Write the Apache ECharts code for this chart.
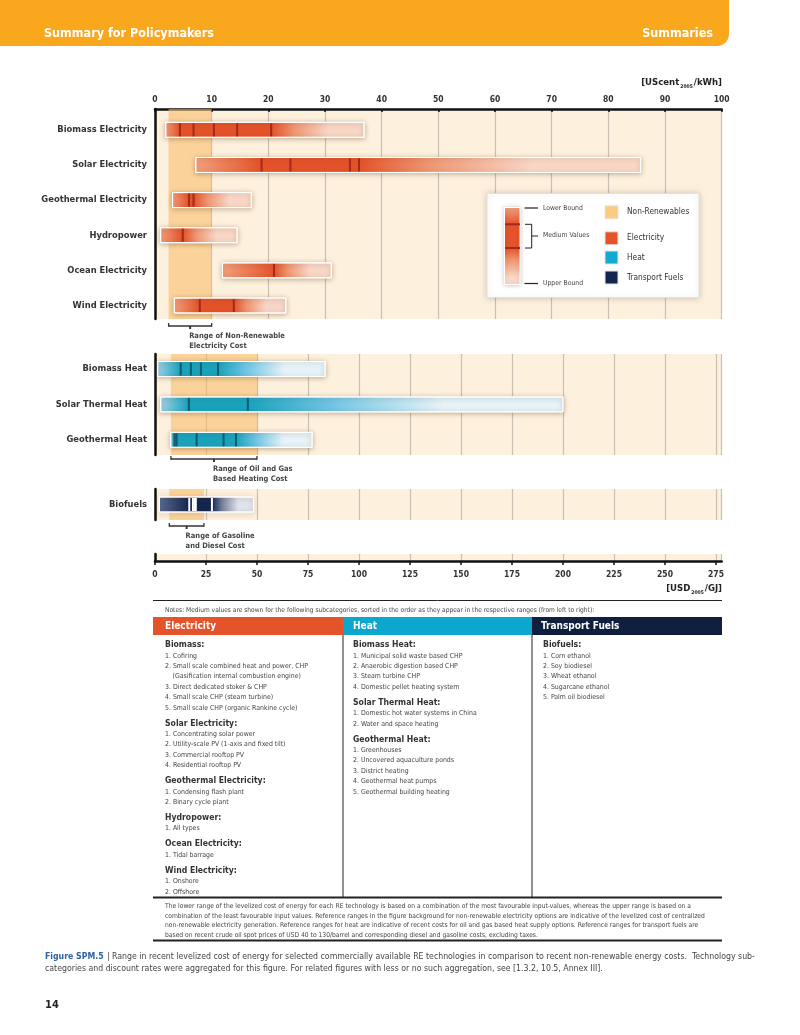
<!DOCTYPE html>
<html><head><meta charset="utf-8">
<script src="https://cdn.jsdelivr.net/npm/echarts@6/dist/echarts.min.js"></script>
<style>html,body{margin:0;padding:0;background:#fff}#c{width:800px;height:1035px}</style>
</head><body><div id="c"></div>
<script>
// ---------------- DATA ----------------
const elecCats = ['Biomass Electricity','Solar Electricity','Geothermal Electricity','Hydropower','Ocean Electricity','Wind Electricity'];
const elecLow  = [1.9, 7.2, 3.1, 1.0, 11.9, 3.4];     // UScent2005/kWh
const elecHigh = [36.9, 85.7, 17.0, 14.5, 31.1, 23.1];
const elecMed  = [[4.4,6.8,10.4,14.5,20.5],[18.8,23.9,34.4,36.0],[6.0,6.8],[4.9],[21.0],[7.9,13.9]];
const elecBand = [2.4, 10];

const heatCats = ['Biomass Heat','Solar Thermal Heat','Geothermal Heat'];
const heatLow  = [1.3, 2.8, 7.7];                     // USD2005/GJ
const heatHigh = [83.4, 200.0, 77.0];
const heatMed  = [[12.6,17.6,22.5,30.9],[16.6,45.5],[9.6,10.6,20.4,33.6,39.7]];
const heatBand = [7.8, 50];

const fuelCats = ['Biofuels'];
const fuelLow  = [2.1];
const fuelHigh = [48.3];
const fuelMed  = [[16.8,18.6,19.6,20.0,27.9]];
const fuelBand = [7, 24];

const topTicksInterval = 10;      // UScent/kWh
const bottomTicksInterval = 25;   // USD/GJ
const USD_GJ_PER_USC_KWH = 2.7778;
const topMax = 100;
const bottomMax = topMax * USD_GJ_PER_USC_KWH;

const notesElec = [['h','Biomass:'],['i','1. Cofiring'],['i','2. Small scale combined heat and power, CHP'],['c','(Gasification internal combustion engine)'],['i','3. Direct dedicated stoker & CHP'],['i','4. Small scale CHP (steam turbine)'],['i','5. Small scale CHP (organic Rankine cycle)'],
 ['h','Solar Electricity:'],['i','1. Concentrating solar power'],['i','2. Utility-scale PV (1-axis and fixed tilt)'],['i','3. Commercial rooftop PV'],['i','4. Residential rooftop PV'],
 ['h','Geothermal Electricity:'],['i','1. Condensing flash plant'],['i','2. Binary cycle plant'],
 ['h','Hydropower:'],['i','1. All types'],
 ['h','Ocean Electricity:'],['i','1. Tidal barrage'],
 ['h','Wind Electricity:'],['i','1. Onshore'],['i','2. Offshore']];
const notesHeat = [['h','Biomass Heat:'],['i','1. Municipal solid waste based CHP'],['i','2. Anaerobic digestion based CHP'],['i','3. Steam turbine CHP'],['i','4. Domestic pellet heating system'],
 ['h','Solar Thermal Heat:'],['i','1. Domestic hot water systems in China'],['i','2. Water and space heating'],
 ['h','Geothermal Heat:'],['i','1. Greenhouses'],['i','2. Uncovered aquaculture ponds'],['i','3. District heating'],['i','4. Geothermal heat pumps'],['i','5. Geothermal building heating']];
const notesFuel = [['h','Biofuels:'],['i','1. Corn ethanol'],['i','2. Soy biodiesel'],['i','3. Wheat ethanol'],['i','4. Sugarcane ethanol'],['i','5. Palm oil biodiesel']];
const paragraph = [
 'The lower range of the levelized cost of energy for each RE technology is based on a combination of the most favourable input-values, whereas the upper range is based on a',
 'combination of the least favourable input values. Reference ranges in the figure background for non-renewable electricity options are indicative of the levelized cost of centralized',
 'non-renewable electricity generation. Reference ranges for heat are indicative of recent costs for oil and gas based heat supply options. Reference ranges for transport fuels are',
 'based on recent crude oil spot prices of USD 40 to 130/barrel and corresponding diesel and gasoline costs, excluding taxes.'];

// ---------------- STYLE ----------------
const FONT = "'Liberation Sans Narrow','DejaVu Sans Condensed','Arial Narrow',sans-serif";
const PANEL = '#fdf0dd';
const BAND = 'rgba(250,188,105,0.58)';
const GRIDC = '#c9bfb2';
const ELEC = {low:'#f2a07c', solid:'#e4532a', mid:'#ef9773', pale:'#f9d7c7', med:'#a2291b'};
const HEAT = {low:'#9fd3e7', solid:'#19a3bd', mid:'#6cc3e3', pale:'#e6f3f9', med:'#0f5a6c'};
const FUEL = {low:'#5a6a92', solid:'#13264f', mid:'#7a84a2', pale:'#e2e4ec', med:'#ffffff'};

function makeRender(meds, col){
  return function(params, api){
    const row = api.value(0), lo = api.value(1), hi = api.value(2);
    const p0 = api.coord([lo,row]), p1 = api.coord([hi,row]);
    const h = 15, x0 = p0[0], w = p1[0]-p0[0], yc = p0[1];
    const mx = meds[params.dataIndex].map(v => api.coord([v,row])[0]);
    const f1 = Math.max(0,(mx[0]-x0)/w), f2 = Math.min(1,(mx[mx.length-1]-x0)/w);
    const stops = [
      {offset:0, color:col.low},
      {offset:f1, color:col.solid},
      {offset:f2, color:col.solid},
      {offset:f2+(1-f2)*0.25, color:col.mid},
      {offset:f2+(1-f2)*0.62, color:col.pale},
      {offset:1, color:col.pale}];
    const ch = [{type:'rect', shape:{x:x0,y:yc-h/2,width:w,height:h},
      style:{fill:new echarts.graphic.LinearGradient(0,0,1,0,stops), stroke:'#ffffff', lineWidth:1,
             shadowBlur:5, shadowColor:'rgba(90,60,30,0.35)', shadowOffsetY:1}}];
    mx.forEach(x => ch.push({type:'line', shape:{x1:x,y1:yc-h/2+1,x2:x,y2:yc+h/2-1}, style:{stroke:col.med, lineWidth:2}}));
    return {type:'group', children:ch};
  };
}
const yLabelStyle = {fontFamily:FONT, fontWeight:'bold', fontSize:9.3, color:'#333', margin:8};
// row axis: rows placed at integer positions, labels only at the rows
function rowAxis(gi, cats, min, max){
  return {type:'value', gridIndex:gi, inverse:true, min:min, max:max,
    axisLine:{show:true, onZero:false, lineStyle:{color:'#111', width:2.5}}, axisTick:{show:false}, splitLine:{show:false},
    axisLabel:Object.assign({show:true, customValues:cats.map((c,i)=>i), formatter:v=>cats[Math.round(v)]||''}, yLabelStyle)};
}
function catAxis(gi, cats, showLabel){
  return {type:'category', gridIndex:gi, data:cats, inverse:true,
    axisLine:{show:true, onZero:false, lineStyle:{color:'#111', width:2.5}}, axisTick:{show:false},
    axisLabel:Object.assign({show:showLabel}, yLabelStyle), splitLine:{show:false}};
}
function valAxis(gi, max, interval, extra){
  return Object.assign({type:'value', gridIndex:gi, min:0, max:max, interval:interval,
    axisLine:{show:false, onZero:false}, axisTick:{show:false}, axisLabel:{show:false},
    splitLine:{show:true, lineStyle:{color:GRIDC, width:1.2}}}, extra||{});
}
const G = {left:155, right:78.3};
const grids = [
  Object.assign({top:109, height:210, show:true, backgroundColor:PANEL, borderWidth:0}, G),
  Object.assign({top:354, height:101, show:true, backgroundColor:PANEL, borderWidth:0}, G),
  Object.assign({top:489, height:31, show:true, backgroundColor:PANEL, borderWidth:0}, G),
  Object.assign({top:554, height:7, show:true, backgroundColor:PANEL, borderWidth:0}, G)];

const chart = echarts.init(document.getElementById('c'), null, {renderer:'canvas'});
chart.setOption({
  animation:false,
  textStyle:{fontFamily:FONT},
  grid:grids,
  xAxis:[
    valAxis(0, topMax, topTicksInterval, {position:'top',
      axisLine:{show:true, onZero:false, lineStyle:{color:'#111', width:2.5}},
      axisTick:{show:true, inside:true, length:3, lineStyle:{color:'#111', width:1.5}},
      axisLabel:{show:true, fontFamily:FONT, fontWeight:'bold', fontSize:8.5, color:'#333', margin:5}}),
    valAxis(1, bottomMax, bottomTicksInterval),
    valAxis(2, bottomMax, bottomTicksInterval),
    valAxis(3, bottomMax, bottomTicksInterval, {position:'bottom',
      axisLine:{show:true, onZero:false, lineStyle:{color:'#111', width:2.5}},
      axisTick:{show:true, inside:false, length:4, lineStyle:{color:'#111', width:1.5}},
      axisLabel:{show:true, showMaxLabel:false, fontFamily:FONT, fontWeight:'bold', fontSize:8.5, color:'#333', margin:9}})
  ],
  yAxis:[rowAxis(0, elecCats, -0.592, 5.384), rowAxis(1, heatCats, -0.424, 2.429), catAxis(2, fuelCats, true), catAxis(3, [''], false)],
  series:[
    {type:'custom', xAxisIndex:0, yAxisIndex:0, renderItem:makeRender(elecMed, ELEC), encode:{x:[1,2], y:0}, z:3,
     data:elecCats.map((c,i)=>[i, elecLow[i], elecHigh[i]]),
     markArea:{silent:true, itemStyle:{color:BAND}, data:[[{xAxis:elecBand[0]},{xAxis:elecBand[1]}]]}},
    {type:'custom', xAxisIndex:1, yAxisIndex:1, renderItem:makeRender(heatMed, HEAT), encode:{x:[1,2], y:0}, z:3,
     data:heatCats.map((c,i)=>[i, heatLow[i], heatHigh[i]]),
     markArea:{silent:true, itemStyle:{color:BAND}, data:[[{xAxis:heatBand[0]},{xAxis:heatBand[1]}]]}},
    {type:'custom', xAxisIndex:2, yAxisIndex:2, renderItem:makeRender(fuelMed, FUEL), encode:{x:[1,2], y:0}, z:3,
     data:fuelCats.map((c,i)=>[i, fuelLow[i], fuelHigh[i]]),
     markArea:{silent:true, itemStyle:{color:BAND}, data:[[{xAxis:fuelBand[0]},{xAxis:fuelBand[1]}]]}}
  ]
});

// ---------------- GRAPHIC ----------------
const g = [];
function T(x,y,text,size,opt){
  opt = opt||{};
  g.push({type:'text', x:x, y:y, z:10, silent:true, style:{text:text,
    font:(opt.bold?'bold ':'')+size+'px '+FONT, fill:opt.color||'#333',
    align:opt.align||'left', textAlign:opt.align||'left', verticalAlign:'middle', textVerticalAlign:'middle'}});
}
function L(x1,y1,x2,y2,w,c){ g.push({type:'line', z:10, silent:true, shape:{x1,y1,x2,y2}, style:{stroke:c||'#222', lineWidth:w||1}}); }
function R(x,y,w,h,fill,extra){ g.push(Object.assign({type:'rect', z:9, silent:true, shape:{x,y,width:w,height:h}, style:{fill:fill}}, extra||{})); }

// header band
g.push({type:'rect', z:9, silent:true, shape:{x:0,y:0,width:729,height:46,r:[0,0,12,0]}, style:{fill:'#f9a81e'}});
T(44,34,'Summary for Policymakers',12.5,{bold:true,color:'#fff'});
T(713,34,'Summaries',12.5,{bold:true,color:'#fff',align:'right'});

// axis unit labels
function unit(x,y,a,sub,b){
  g.push({type:'text', x:x, y:y, z:10, silent:true, style:{
    text:'{a|'+a+'}{s|'+sub+'}{a|'+b+'}', align:'right', textAlign:'right', verticalAlign:'middle', textVerticalAlign:'middle',
    rich:{a:{fontFamily:FONT, fontWeight:'bold', fontSize:9.5, fill:'#222', color:'#222'},
          s:{fontFamily:FONT, fontWeight:'bold', fontSize:5, fill:'#222', color:'#222', padding:[7,1,0,1]}}}});
}
unit(722,83,'[UScent','2005','/kWh]');
unit(722,589,'[USD','2005','/GJ]');

// range brackets (positions via axis scales)
function bracket(axisIdx, band, y, lines){
  const a = chart.convertToPixel({xAxisIndex:axisIdx}, band[0]);
  const b = chart.convertToPixel({xAxisIndex:axisIdx}, band[1]);
  const m = (a+b)/2;
  L(a,y,b,y,1.5,'#333'); L(a,y-3,a,y+0.7,1.3,'#333'); L(b,y-3,b,y+0.7,1.3,'#333'); L(m,y,m,y+3,2,'#333');
  lines.forEach((t,i)=>T(m-1, y+10+i*10, t, 7.5, {bold:true,color:'#444'}));
}
bracket(0, elecBand, 326, ['Range of Non-Renewable','Electricity Cost']);
bracket(1, heatBand, 459, ['Range of Oil and Gas','Based Heating Cost']);
bracket(2, fuelBand, 526, ['Range of Gasoline','and Diesel Cost']);

// legend
R(487,193.5,212,104,'#fff',{style:{fill:'#ffffff', stroke:'#e4e0da', lineWidth:1, shadowBlur:6, shadowColor:'rgba(0,0,0,0.18)'}});
R(504.5,207.5,15.5,77,null,{style:{fill:new echarts.graphic.LinearGradient(0,0,0,1,[
  {offset:0,color:'#f2a387'},{offset:0.22,color:'#e4532a'},{offset:0.53,color:'#e4532a'},{offset:0.68,color:'#ee9670'},{offset:0.9,color:'#f9d6c6'},{offset:1,color:'#fadccf'}]),
  stroke:'#fff', lineWidth:1, shadowBlur:4, shadowColor:'rgba(90,60,30,0.3)'}});
L(505,224.3,520,224.3,2,'#a2291b'); L(505,248,520,248,2,'#a2291b');
L(524.5,208,538,208,1.2,'#222'); T(543,208,'Lower Bound',6.8,{color:'#444'});
L(525,224.3,531.7,224.3,1,'#222'); L(525,248,531.7,248,1,'#222'); L(531.7,224.3,531.7,248,1,'#222'); L(531.7,236,538,236,1,'#222');
T(543,235.5,'Medium Values',6.8,{color:'#444'});
L(524.5,283.5,538,283.5,1.2,'#222'); T(543,283.5,'Upper Bound',6.8,{color:'#444'});
[['#fccb80','Non-Renewables',212.3],['#e4532a','Electricity',238.3],['#12a9d2','Heat',257.5],['#13264f','Transport Fuels',277.5]].forEach(d=>{
  R(605,d[2]-6.5,13,13,d[0],{style:{fill:d[0], stroke:'#e8e4de', lineWidth:1}});
  T(627,d[2],d[1],8.3,{color:'#333'});
});

// notes area
L(153,600.5,722,600.5,1,'#222');
T(165,610,'Notes: Medium values are shown for the following subcategories, sorted in the order as they appear in the respective ranges (from left to right):',6.6,{color:'#444'});
R(153,617,190,18,'#e4532a'); R(343,617,189,18,'#0ca6cf'); R(532,617,190,18,'#0f1f3d');
T(165,626.5,'Electricity',10,{bold:true,color:'#fff'});
T(353,626.5,'Heat',10,{bold:true,color:'#fff'});
T(541,626.5,'Transport Fuels',10,{bold:true,color:'#fff'});
L(343,635,343,897,1,'#222'); L(532,635,532,897,1,'#222');
function notes(x, list){
  let y = 645, prev = null;
  list.forEach(it=>{
    if(prev){ y += (it[0]==='h') ? 15.6 : (prev==='h' ? 10.8 : 10.4); }
    if(it[0]==='h') T(x,y,it[1],8.6,{bold:true,color:'#333'});
    else T(it[0]==='c'?x+7.5:x, y, it[1], 6.9, {color:'#444'});
    prev = it[0];
  });
}
notes(165, notesElec); notes(353, notesHeat); notes(543, notesFuel);
L(153,897.5,722,897.5,2,'#222');
paragraph.forEach((t,i)=>T(165,906+i*9.8,t,6.7,{color:'#444'}));
L(153,940.5,722,940.5,2,'#222');

// caption
g.push({type:'text', x:45, y:957, z:10, silent:true, style:{
  text:'{b|Figure SPM.5} {n|| Range in recent levelized cost of energy for selected commercially available RE technologies in comparison to recent non-renewable energy costs.  Technology sub-}',
  verticalAlign:'middle', textVerticalAlign:'middle',
  rich:{b:{fontFamily:FONT,fontWeight:'bold',fontSize:8.7,fill:'#2a63a8',color:'#2a63a8'}, n:{fontFamily:FONT,fontSize:8.7,fill:'#444',color:'#444'}}}});
T(45,969,'categories and discount rates were aggregated for this figure. For related figures with less or no such aggregation, see [1.3.2, 10.5, Annex III].',8.7,{color:'#444'});
T(45,1005,'14',11,{bold:true,color:'#222'});

chart.setOption({graphic:g});
</script></body></html>
